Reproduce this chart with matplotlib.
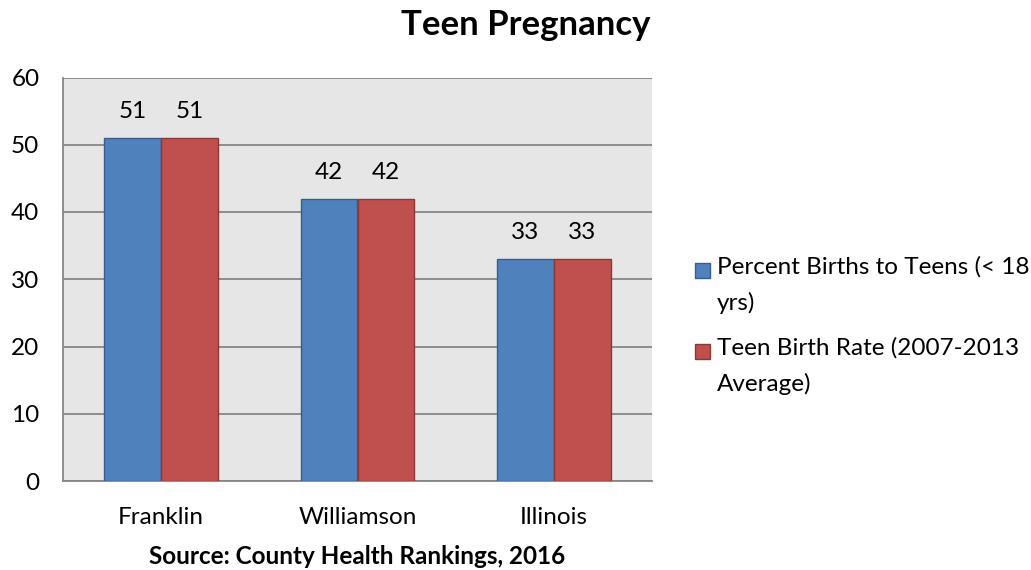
import matplotlib
matplotlib.use("Agg")
import matplotlib.pyplot as plt
import numpy as np
from matplotlib.patches import Rectangle

# chart data
categories = ["Franklin", "Williamson", "Illinois"]
series_names = ["Percent Births to Teens (< 18\nyrs)",
                "Teen Birth Rate (2007-2013\nAverage)"]
pct_births_teens = [51, 42, 33]
teen_birth_rate = [51, 42, 33]
y_ticks = [0, 10, 20, 30, 40, 50, 60]

BLUE, BLUE_EDGE = "#4F81BD", "#385D8A"
RED, RED_EDGE = "#C0504D", "#8C3836"
GRID = "#868686"
FS = 17.5

plt.rcParams["font.family"] = ["Lato", "DejaVu Sans"]

fig = plt.figure(figsize=(10.31, 5.70), dpi=100)
W, H = 1031, 570
ax = fig.add_axes([63 / W, 1 - 481 / H, (652 - 63) / W, (481 - 77.5) / H])
ax.set_facecolor("#E6E6E6")

x = np.arange(len(categories))
bw = 0.29
series = [(pct_births_teens, BLUE, BLUE_EDGE, -bw / 2),
          (teen_birth_rate, RED, RED_EDGE, bw / 2)]
for vals, fc, ec, off in series:
    bars = ax.bar(x + off, vals, width=bw, color=fc, edgecolor=ec,
                  linewidth=1.0, zorder=3)
    for b, v in zip(bars, vals):
        ax.annotate(f"{v}", (b.get_x() + b.get_width() / 2, v),
                    xytext=(0, 19), textcoords="offset points",
                    ha="center", va="center", fontsize=FS, color="black")

ax.set_xlim(-0.5, len(categories) - 0.5)
ax.set_ylim(0, 60)
ax.set_yticks(y_ticks)
ax.set_xticks(x)
ax.set_xticklabels(categories)
ax.tick_params(axis="both", length=0, labelsize=FS, colors="black")
ax.tick_params(axis="y", pad=17)
ax.tick_params(axis="x", pad=19)
ax.yaxis.grid(True, color=GRID, linewidth=1.3, zorder=0)
ax.set_axisbelow(True)
for side in ("top", "right"):
    ax.spines[side].set_visible(False)
for side in ("left", "bottom"):
    ax.spines[side].set_color(GRID)
    ax.spines[side].set_linewidth(1.3)

fig.text(526 / W, 1 - 25 / H, "Teen Pregnancy", ha="center", va="center",
         fontsize=25, fontweight="bold")
fig.text(357 / W, 1 - 557 / H, "Source: County Health Rankings, 2016",
         ha="center", va="center", fontsize=FS, fontweight="bold")

# legend: square sits on the first line of each wrapped label
for name, fc, ec, yc in [(series_names[0], BLUE, BLUE_EDGE, 270),
                         (series_names[1], RED, RED_EDGE, 351)]:
    fig.patches.append(Rectangle((695 / W, 1 - (yc + 7.5) / H), 15 / W, 15 / H,
                                 facecolor=fc, edgecolor=ec, linewidth=1.0,
                                 transform=fig.transFigure, figure=fig))
    fig.text(717 / W, 1 - (yc - 14) / H, name, ha="left", va="top",
             fontsize=FS, linespacing=1.8)

fig.savefig("out.png", dpi=100)
